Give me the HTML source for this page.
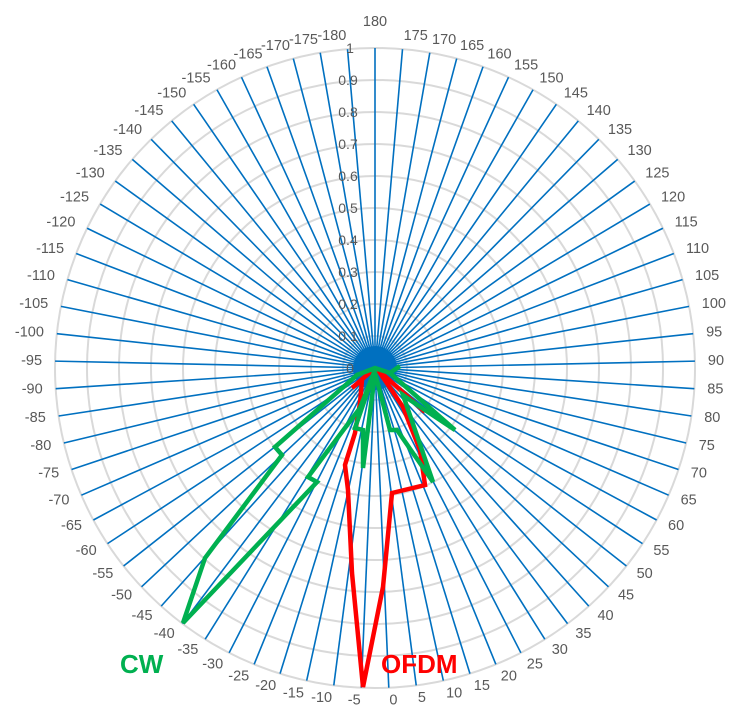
<!DOCTYPE html>
<html><head><meta charset="utf-8"><style>body{margin:0;background:#fff}svg{display:block}</style></head><body>
<svg width="747" height="716" xmlns="http://www.w3.org/2000/svg" font-family="Liberation Sans, sans-serif">
<g fill="none" stroke="#d9d9d9" stroke-width="2">
<circle cx="375" cy="368" r="32"/><circle cx="375" cy="368" r="64"/><circle cx="375" cy="368" r="96"/><circle cx="375" cy="368" r="128"/><circle cx="375" cy="368" r="160"/><circle cx="375" cy="368" r="192"/><circle cx="375" cy="368" r="224"/><circle cx="375" cy="368" r="256"/><circle cx="375" cy="368" r="288"/><circle cx="375" cy="368" r="320"/>
</g>
<g stroke="#0070c0" stroke-width="1.6">
<line x1="375" y1="368" x2="375" y2="48" transform="rotate(0 375 368)"/><line x1="375" y1="368" x2="375" y2="48" transform="rotate(4.93 375 368)"/><line x1="375" y1="368" x2="375" y2="48" transform="rotate(9.86 375 368)"/><line x1="375" y1="368" x2="375" y2="48" transform="rotate(14.79 375 368)"/><line x1="375" y1="368" x2="375" y2="48" transform="rotate(19.73 375 368)"/><line x1="375" y1="368" x2="375" y2="48" transform="rotate(24.66 375 368)"/><line x1="375" y1="368" x2="375" y2="48" transform="rotate(29.59 375 368)"/><line x1="375" y1="368" x2="375" y2="48" transform="rotate(34.52 375 368)"/><line x1="375" y1="368" x2="375" y2="48" transform="rotate(39.45 375 368)"/><line x1="375" y1="368" x2="375" y2="48" transform="rotate(44.38 375 368)"/><line x1="375" y1="368" x2="375" y2="48" transform="rotate(49.32 375 368)"/><line x1="375" y1="368" x2="375" y2="48" transform="rotate(54.25 375 368)"/><line x1="375" y1="368" x2="375" y2="48" transform="rotate(59.18 375 368)"/><line x1="375" y1="368" x2="375" y2="48" transform="rotate(64.11 375 368)"/><line x1="375" y1="368" x2="375" y2="48" transform="rotate(69.04 375 368)"/><line x1="375" y1="368" x2="375" y2="48" transform="rotate(73.97 375 368)"/><line x1="375" y1="368" x2="375" y2="48" transform="rotate(78.90 375 368)"/><line x1="375" y1="368" x2="375" y2="48" transform="rotate(83.84 375 368)"/><line x1="375" y1="368" x2="375" y2="48" transform="rotate(88.77 375 368)"/><line x1="375" y1="368" x2="375" y2="48" transform="rotate(93.70 375 368)"/><line x1="375" y1="368" x2="375" y2="48" transform="rotate(98.63 375 368)"/><line x1="375" y1="368" x2="375" y2="48" transform="rotate(103.56 375 368)"/><line x1="375" y1="368" x2="375" y2="48" transform="rotate(108.49 375 368)"/><line x1="375" y1="368" x2="375" y2="48" transform="rotate(113.42 375 368)"/><line x1="375" y1="368" x2="375" y2="48" transform="rotate(118.36 375 368)"/><line x1="375" y1="368" x2="375" y2="48" transform="rotate(123.29 375 368)"/><line x1="375" y1="368" x2="375" y2="48" transform="rotate(128.22 375 368)"/><line x1="375" y1="368" x2="375" y2="48" transform="rotate(133.15 375 368)"/><line x1="375" y1="368" x2="375" y2="48" transform="rotate(138.08 375 368)"/><line x1="375" y1="368" x2="375" y2="48" transform="rotate(143.01 375 368)"/><line x1="375" y1="368" x2="375" y2="48" transform="rotate(147.95 375 368)"/><line x1="375" y1="368" x2="375" y2="48" transform="rotate(152.88 375 368)"/><line x1="375" y1="368" x2="375" y2="48" transform="rotate(157.81 375 368)"/><line x1="375" y1="368" x2="375" y2="48" transform="rotate(162.74 375 368)"/><line x1="375" y1="368" x2="375" y2="48" transform="rotate(167.67 375 368)"/><line x1="375" y1="368" x2="375" y2="48" transform="rotate(172.60 375 368)"/><line x1="375" y1="368" x2="375" y2="48" transform="rotate(177.53 375 368)"/><line x1="375" y1="368" x2="375" y2="48" transform="rotate(182.47 375 368)"/><line x1="375" y1="368" x2="375" y2="48" transform="rotate(187.40 375 368)"/><line x1="375" y1="368" x2="375" y2="48" transform="rotate(192.33 375 368)"/><line x1="375" y1="368" x2="375" y2="48" transform="rotate(197.26 375 368)"/><line x1="375" y1="368" x2="375" y2="48" transform="rotate(202.19 375 368)"/><line x1="375" y1="368" x2="375" y2="48" transform="rotate(207.12 375 368)"/><line x1="375" y1="368" x2="375" y2="48" transform="rotate(212.05 375 368)"/><line x1="375" y1="368" x2="375" y2="48" transform="rotate(216.99 375 368)"/><line x1="375" y1="368" x2="375" y2="48" transform="rotate(221.92 375 368)"/><line x1="375" y1="368" x2="375" y2="48" transform="rotate(226.85 375 368)"/><line x1="375" y1="368" x2="375" y2="48" transform="rotate(231.78 375 368)"/><line x1="375" y1="368" x2="375" y2="48" transform="rotate(236.71 375 368)"/><line x1="375" y1="368" x2="375" y2="48" transform="rotate(241.64 375 368)"/><line x1="375" y1="368" x2="375" y2="48" transform="rotate(246.58 375 368)"/><line x1="375" y1="368" x2="375" y2="48" transform="rotate(251.51 375 368)"/><line x1="375" y1="368" x2="375" y2="48" transform="rotate(256.44 375 368)"/><line x1="375" y1="368" x2="375" y2="48" transform="rotate(261.37 375 368)"/><line x1="375" y1="368" x2="375" y2="48" transform="rotate(266.30 375 368)"/><line x1="375" y1="368" x2="375" y2="48" transform="rotate(271.23 375 368)"/><line x1="375" y1="368" x2="375" y2="48" transform="rotate(276.16 375 368)"/><line x1="375" y1="368" x2="375" y2="48" transform="rotate(281.10 375 368)"/><line x1="375" y1="368" x2="375" y2="48" transform="rotate(286.03 375 368)"/><line x1="375" y1="368" x2="375" y2="48" transform="rotate(290.96 375 368)"/><line x1="375" y1="368" x2="375" y2="48" transform="rotate(295.89 375 368)"/><line x1="375" y1="368" x2="375" y2="48" transform="rotate(300.82 375 368)"/><line x1="375" y1="368" x2="375" y2="48" transform="rotate(305.75 375 368)"/><line x1="375" y1="368" x2="375" y2="48" transform="rotate(310.68 375 368)"/><line x1="375" y1="368" x2="375" y2="48" transform="rotate(315.62 375 368)"/><line x1="375" y1="368" x2="375" y2="48" transform="rotate(320.55 375 368)"/><line x1="375" y1="368" x2="375" y2="48" transform="rotate(325.48 375 368)"/><line x1="375" y1="368" x2="375" y2="48" transform="rotate(330.41 375 368)"/><line x1="375" y1="368" x2="375" y2="48" transform="rotate(335.34 375 368)"/><line x1="375" y1="368" x2="375" y2="48" transform="rotate(340.27 375 368)"/><line x1="375" y1="368" x2="375" y2="48" transform="rotate(345.21 375 368)"/><line x1="375" y1="368" x2="375" y2="48" transform="rotate(350.14 375 368)"/><line x1="375" y1="368" x2="375" y2="48" transform="rotate(355.07 375 368)"/>
</g>
<circle cx="375" cy="368" r="22" fill="#0070c0"/>
<g font-size="14" fill="#595959" text-anchor="middle">
<text x="350" y="373">0</text><text x="348" y="341">0.1</text><text x="348" y="309">0.2</text><text x="348" y="277">0.3</text><text x="348" y="245">0.4</text><text x="348" y="213">0.5</text><text x="348" y="181">0.6</text><text x="348" y="149">0.7</text><text x="348" y="117">0.8</text><text x="348" y="85">0.9</text><text x="350" y="53">1</text>
</g>
<g font-size="14.5" fill="#595959" dominant-baseline="central">
<g transform="translate(375 368) rotate(0) translate(0 -346) rotate(0)"><text text-anchor="middle">180</text></g>
<g text-anchor="start">
<g transform="translate(375 368) rotate(4.93) translate(0 -333) rotate(-4.93)"><text>175</text></g>
<g transform="translate(375 368) rotate(9.86) translate(0 -333) rotate(-9.86)"><text>170</text></g>
<g transform="translate(375 368) rotate(14.79) translate(0 -333) rotate(-14.79)"><text>165</text></g>
<g transform="translate(375 368) rotate(19.73) translate(0 -333) rotate(-19.73)"><text>160</text></g>
<g transform="translate(375 368) rotate(24.66) translate(0 -333) rotate(-24.66)"><text>155</text></g>
<g transform="translate(375 368) rotate(29.59) translate(0 -333) rotate(-29.59)"><text>150</text></g>
<g transform="translate(375 368) rotate(34.52) translate(0 -333) rotate(-34.52)"><text>145</text></g>
<g transform="translate(375 368) rotate(39.45) translate(0 -333) rotate(-39.45)"><text>140</text></g>
<g transform="translate(375 368) rotate(44.38) translate(0 -333) rotate(-44.38)"><text>135</text></g>
<g transform="translate(375 368) rotate(49.32) translate(0 -333) rotate(-49.32)"><text>130</text></g>
<g transform="translate(375 368) rotate(54.25) translate(0 -333) rotate(-54.25)"><text>125</text></g>
<g transform="translate(375 368) rotate(59.18) translate(0 -333) rotate(-59.18)"><text>120</text></g>
<g transform="translate(375 368) rotate(64.11) translate(0 -333) rotate(-64.11)"><text>115</text></g>
<g transform="translate(375 368) rotate(69.04) translate(0 -333) rotate(-69.04)"><text>110</text></g>
<g transform="translate(375 368) rotate(73.97) translate(0 -333) rotate(-73.97)"><text>105</text></g>
<g transform="translate(375 368) rotate(78.90) translate(0 -333) rotate(-78.90)"><text>100</text></g>
<g transform="translate(375 368) rotate(83.84) translate(0 -333) rotate(-83.84)"><text>95</text></g>
<g transform="translate(375 368) rotate(88.77) translate(0 -333) rotate(-88.77)"><text>90</text></g>
<g transform="translate(375 368) rotate(93.70) translate(0 -333) rotate(-93.70)"><text>85</text></g>
<g transform="translate(375 368) rotate(98.63) translate(0 -333) rotate(-98.63)"><text>80</text></g>
<g transform="translate(375 368) rotate(103.56) translate(0 -333) rotate(-103.56)"><text>75</text></g>
<g transform="translate(375 368) rotate(108.49) translate(0 -333) rotate(-108.49)"><text>70</text></g>
<g transform="translate(375 368) rotate(113.42) translate(0 -333) rotate(-113.42)"><text>65</text></g>
<g transform="translate(375 368) rotate(118.36) translate(0 -333) rotate(-118.36)"><text>60</text></g>
<g transform="translate(375 368) rotate(123.29) translate(0 -333) rotate(-123.29)"><text>55</text></g>
<g transform="translate(375 368) rotate(128.22) translate(0 -333) rotate(-128.22)"><text>50</text></g>
<g transform="translate(375 368) rotate(133.15) translate(0 -333) rotate(-133.15)"><text>45</text></g>
<g transform="translate(375 368) rotate(138.08) translate(0 -333) rotate(-138.08)"><text>40</text></g>
<g transform="translate(375 368) rotate(143.01) translate(0 -333) rotate(-143.01)"><text>35</text></g>
<g transform="translate(375 368) rotate(147.95) translate(0 -333) rotate(-147.95)"><text>30</text></g>
<g transform="translate(375 368) rotate(152.88) translate(0 -333) rotate(-152.88)"><text>25</text></g>
<g transform="translate(375 368) rotate(157.81) translate(0 -333) rotate(-157.81)"><text>20</text></g>
<g transform="translate(375 368) rotate(162.74) translate(0 -333) rotate(-162.74)"><text>15</text></g>
<g transform="translate(375 368) rotate(167.67) translate(0 -333) rotate(-167.67)"><text>10</text></g>
<g transform="translate(375 368) rotate(172.60) translate(0 -333) rotate(-172.60)"><text>5</text></g>
<g transform="translate(375 368) rotate(177.53) translate(0 -333) rotate(-177.53)"><text>0</text></g>
</g>
<g text-anchor="end">
<g transform="translate(375 368) rotate(182.47) translate(0 -333) rotate(-182.47)"><text>-5</text></g>
<g transform="translate(375 368) rotate(187.40) translate(0 -333) rotate(-187.40)"><text>-10</text></g>
<g transform="translate(375 368) rotate(192.33) translate(0 -333) rotate(-192.33)"><text>-15</text></g>
<g transform="translate(375 368) rotate(197.26) translate(0 -333) rotate(-197.26)"><text>-20</text></g>
<g transform="translate(375 368) rotate(202.19) translate(0 -333) rotate(-202.19)"><text>-25</text></g>
<g transform="translate(375 368) rotate(207.12) translate(0 -333) rotate(-207.12)"><text>-30</text></g>
<g transform="translate(375 368) rotate(212.05) translate(0 -333) rotate(-212.05)"><text>-35</text></g>
<g transform="translate(375 368) rotate(216.99) translate(0 -333) rotate(-216.99)"><text>-40</text></g>
<g transform="translate(375 368) rotate(221.92) translate(0 -333) rotate(-221.92)"><text>-45</text></g>
<g transform="translate(375 368) rotate(226.85) translate(0 -333) rotate(-226.85)"><text>-50</text></g>
<g transform="translate(375 368) rotate(231.78) translate(0 -333) rotate(-231.78)"><text>-55</text></g>
<g transform="translate(375 368) rotate(236.71) translate(0 -333) rotate(-236.71)"><text>-60</text></g>
<g transform="translate(375 368) rotate(241.64) translate(0 -333) rotate(-241.64)"><text>-65</text></g>
<g transform="translate(375 368) rotate(246.58) translate(0 -333) rotate(-246.58)"><text>-70</text></g>
<g transform="translate(375 368) rotate(251.51) translate(0 -333) rotate(-251.51)"><text>-75</text></g>
<g transform="translate(375 368) rotate(256.44) translate(0 -333) rotate(-256.44)"><text>-80</text></g>
<g transform="translate(375 368) rotate(261.37) translate(0 -333) rotate(-261.37)"><text>-85</text></g>
<g transform="translate(375 368) rotate(266.30) translate(0 -333) rotate(-266.30)"><text>-90</text></g>
<g transform="translate(375 368) rotate(271.23) translate(0 -333) rotate(-271.23)"><text>-95</text></g>
<g transform="translate(375 368) rotate(276.16) translate(0 -333) rotate(-276.16)"><text>-100</text></g>
<g transform="translate(375 368) rotate(281.10) translate(0 -333) rotate(-281.10)"><text>-105</text></g>
<g transform="translate(375 368) rotate(286.03) translate(0 -333) rotate(-286.03)"><text>-110</text></g>
<g transform="translate(375 368) rotate(290.96) translate(0 -333) rotate(-290.96)"><text>-115</text></g>
<g transform="translate(375 368) rotate(295.89) translate(0 -333) rotate(-295.89)"><text>-120</text></g>
<g transform="translate(375 368) rotate(300.82) translate(0 -333) rotate(-300.82)"><text>-125</text></g>
<g transform="translate(375 368) rotate(305.75) translate(0 -333) rotate(-305.75)"><text>-130</text></g>
<g transform="translate(375 368) rotate(310.68) translate(0 -333) rotate(-310.68)"><text>-135</text></g>
<g transform="translate(375 368) rotate(315.62) translate(0 -333) rotate(-315.62)"><text>-140</text></g>
<g transform="translate(375 368) rotate(320.55) translate(0 -333) rotate(-320.55)"><text>-145</text></g>
<g transform="translate(375 368) rotate(325.48) translate(0 -333) rotate(-325.48)"><text>-150</text></g>
<g transform="translate(375 368) rotate(330.41) translate(0 -333) rotate(-330.41)"><text>-155</text></g>
<g transform="translate(375 368) rotate(335.34) translate(0 -333) rotate(-335.34)"><text>-160</text></g>
<g transform="translate(375 368) rotate(340.27) translate(0 -333) rotate(-340.27)"><text>-165</text></g>
<g transform="translate(375 368) rotate(345.21) translate(0 -333) rotate(-345.21)"><text>-170</text></g>
<g transform="translate(375 368) rotate(350.14) translate(0 -333) rotate(-350.14)"><text>-175</text></g>
<g transform="translate(375 368) rotate(355.07) translate(0 -333) rotate(-355.07)"><text>-180</text></g>
</g>
</g>
<g fill="none" stroke-width="4.5" stroke-linejoin="miter">
<polyline stroke="#ff0000" points="375,368 352,388 362,380 360,403 355,433 345,465 348,490 352,573 363,687 383,587 392,493 425,485 420,450 403,407 378,370 425,412"/>
<polyline stroke="#00b050" points="390,373 375,368 357,375 275,447 282,455 205,558 183,623 317,482 308,477 360,408 375,370 355,428 363,430 363,468 375,373 390,430 397,430 433,482 403,395 410,400 455,430 390,373 400,366"/>
</g>
<text x="120" y="673" font-size="26" font-weight="bold" fill="#00b050">CW</text>
<text x="381" y="673" font-size="26" font-weight="bold" fill="#ff0000">OFDM</text>
</svg>
</body></html>
